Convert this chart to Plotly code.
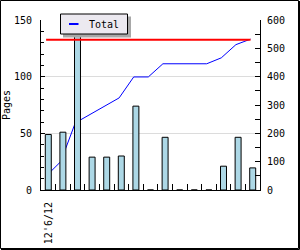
import plotly.graph_objects as go

# ---- data ----
days = ["12'6/12", "12'6/13", "12'6/14", "12'6/15", "12'6/16", "12'6/17", "12'6/18",
        "12'6/19", "12'6/20", "12'6/21", "12'6/22", "12'6/23", "12'6/24", "12'6/25", "12'6/26"]
pages = [49, 51, 137, 29, 29, 30, 74, 0, 46.5, 0, 0, 0, 21, 46.5, 19.5]
total = [49, 100, 237, 266, 295, 325, 399, 399, 445.5, 445.5, 445.5, 445.5, 466.5, 513, 532.5]
goal = 530
legend_label = "Total"
y_title = "Pages"

# ---- layout geometry (pixels) ----
W, H = 300, 250
L, R, T, B = 41, 40, 20, 60
PW, PH = W - L - R, H - T - B


def px(x):
    return (x - L) / PW


def py(y):
    return (T + PH - y) / PH


FONT = "DejaVu Sans Mono"
shift = 0.15
n = len(days)

fig = go.Figure()

# cumulative line (base subplot, drawn beneath the bars)
fig.add_trace(go.Scatter(x=days, y=total, mode="lines", name=legend_label,
                         line=dict(color="#0000ff", width=1), xaxis="x", yaxis="y"))
# daily pages bars
fig.add_trace(go.Bar(x=days, y=pages, marker=dict(color="#add8e6", line=dict(color="black", width=1)),
                     xaxis="x2", yaxis="y2"))
# goal line (top subplot)
fig.add_trace(go.Scatter(x=[days[0], days[-1]], y=[goal, goal], mode="lines",
                         line=dict(color="#ff0000", width=2), xaxis="x3", yaxis="y3"))

cat = dict(type="category", categoryorder="array", categoryarray=days, automargin=False)

fig.update_layout(
    template="none",
    width=W, height=H,
    margin=dict(l=L, r=R, t=T, b=B, pad=0),
    plot_bgcolor="white", paper_bgcolor="white",
    showlegend=False,
    font=dict(family=FONT, size=10, color="black"),
    bargap=0.59,
    xaxis=dict(**cat, visible=False, range=[-0.5 + shift, n - 0.5 + shift]),
    yaxis=dict(side="right", range=[0, 600], dtick=100, ticks="inside", ticklen=5,
               tickcolor="black", showline=True, linecolor="black", linewidth=1,
               showgrid=False, zeroline=False, ticklabelstandoff=4, automargin=False,
               tickfont=dict(family=FONT, size=10, color="black"),
               minor=dict(dtick=50, ticks="inside", ticklen=5, tickcolor="black", showgrid=False)),
    xaxis2=dict(**cat, overlaying="x", anchor="y2", side="bottom",
                range=[-0.5, n - 0.5], tickson="boundaries", ticks="inside", ticklen=6,
                tickcolor="black", tickangle=-90, ticklabelstep=n, showline=True,
                linecolor="black", linewidth=1, showgrid=False, zeroline=False,
                ticklabelstandoff=7, tickfont=dict(family=FONT, size=10, color="black")),
    yaxis2=dict(overlaying="y", side="left", anchor="x2", range=[0, 150], dtick=50,
                ticks="inside", ticklen=4, tickcolor="black", showline=True,
                linecolor="black", linewidth=1, showgrid=True, gridcolor="#dcdcdc", gridwidth=1,
                zeroline=False, ticklabelstandoff=6, automargin=False,
                tickfont=dict(family=FONT, size=10, color="black"),
                title=dict(text=y_title, standoff=1, font=dict(family=FONT, size=10, color="black")),
                minor=dict(dtick=10, ticks="inside", ticklen=3, tickcolor="black", showgrid=False)),
    xaxis3=dict(**cat, overlaying="x", visible=False, range=[-0.5 + shift, n - 0.5 + shift]),
    yaxis3=dict(overlaying="y", visible=False, range=[0, 600], automargin=False),
)

shapes = []
# outer frame
shapes.append(dict(type="rect", xref="paper", yref="paper", x0=px(0.5), x1=px(298.5),
                   y0=py(248.5), y1=py(0.5), line=dict(color="black", width=1), layer="above"))
shapes.append(dict(type="line", xref="paper", yref="paper", x0=px(299.5), x1=px(299.5),
                   y0=py(249.5), y1=py(1), line=dict(color="black", width=1), layer="above"))
shapes.append(dict(type="line", xref="paper", yref="paper", x0=px(1), x1=px(299.5),
                   y0=py(249.5), y1=py(249.5), line=dict(color="black", width=1), layer="above"))
# legend shadow + box
shapes.append(dict(type="rect", xref="paper", yref="paper", x0=px(63), x1=px(131),
                   y0=py(37.5), y1=py(16.5), fillcolor="#a8a8a8", line=dict(width=0), layer="above"))
shapes.append(dict(type="rect", xref="paper", yref="paper", x0=px(60.5), x1=px(127.5),
                   y0=py(34), y1=py(14), fillcolor="#ece9f0", line=dict(color="black", width=1),
                   layer="above"))
shapes.append(dict(type="line", xref="paper", yref="paper", x0=px(69), x1=px(78.5),
                   y0=py(24), y1=py(24), line=dict(color="#0000ff", width=2), layer="above"))
fig.update_layout(shapes=shapes)
fig.add_annotation(text=legend_label, xref="paper", yref="paper", x=px(86.5), y=py(24),
                   xanchor="left", yanchor="middle", showarrow=False,
                   font=dict(family=FONT, size=10, color="black"))

fig.write_html("out.html")
